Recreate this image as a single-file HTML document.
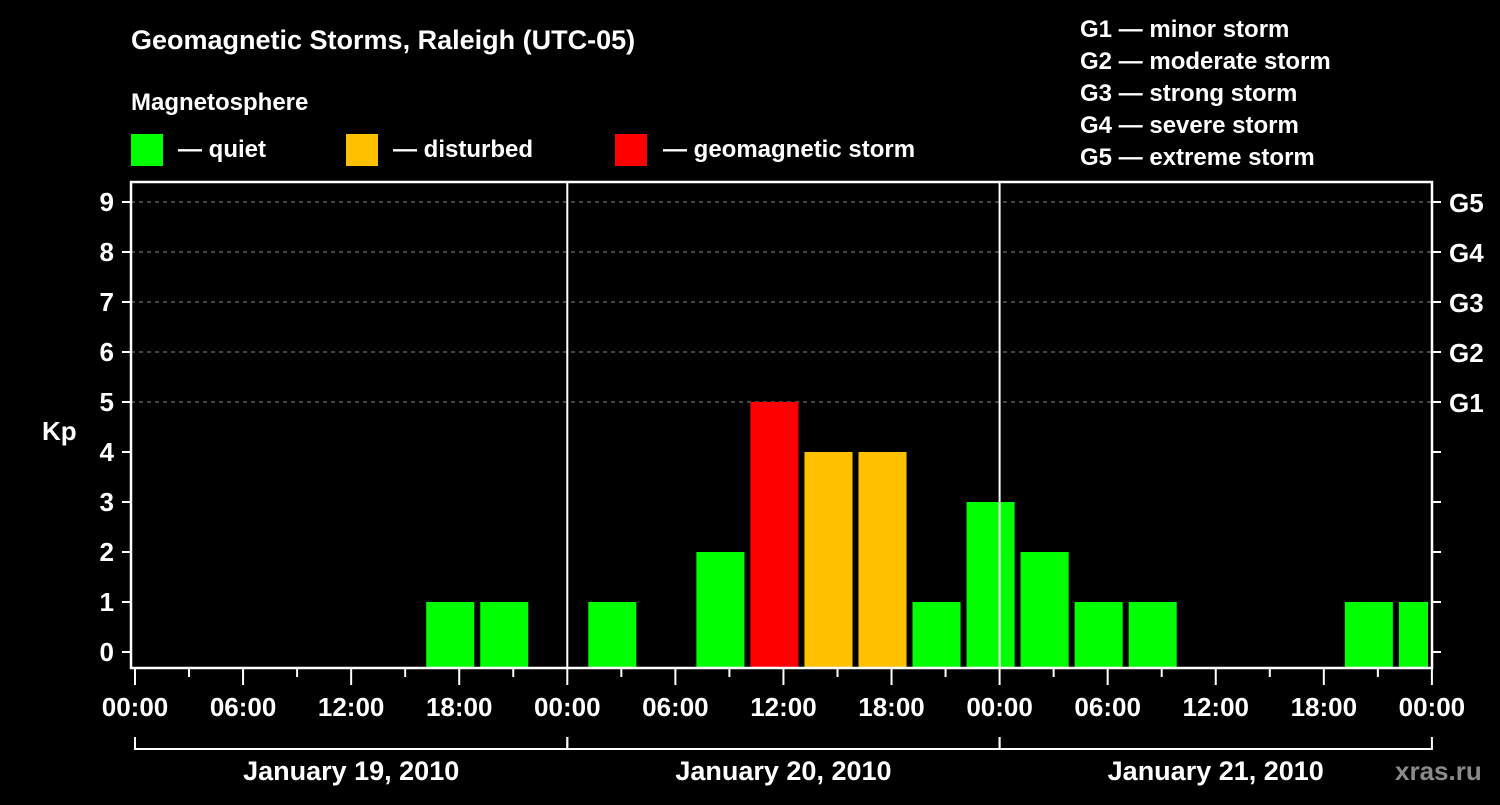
<!DOCTYPE html>
<html><head><meta charset="utf-8"><style>
body{margin:0;background:#000;width:1500px;height:800px;overflow:hidden}
svg text{font-family:"Liberation Sans",sans-serif;font-weight:bold;fill:#fff}
</style></head><body>
<svg id="c" width="1500" height="800" xmlns="http://www.w3.org/2000/svg">
<rect width="1500" height="800" fill="#000"/>
<text x="131" y="49" font-size="27">Geomagnetic Storms, Raleigh (UTC-05)</text>
<text x="131" y="110" font-size="24">Magnetosphere</text>
<rect x="131" y="134" width="32" height="32" fill="#00ff00"/>
<text x="178" y="157" font-size="24">— quiet</text>
<rect x="346" y="134" width="32" height="32" fill="#ffc000"/>
<text x="393" y="157" font-size="24">— disturbed</text>
<rect x="615" y="134" width="32" height="32" fill="#ff0000"/>
<text x="663" y="157" font-size="24">— geomagnetic storm</text>
<g font-size="24">
<text x="1080" y="37">G1 — minor storm</text>
<text x="1080" y="69">G2 — moderate storm</text>
<text x="1080" y="101">G3 — strong storm</text>
<text x="1080" y="133">G4 — severe storm</text>
<text x="1080" y="165">G5 — extreme storm</text>
</g>
<text x="42" y="440" font-size="26">Kp</text>
<text x="1395" y="780" font-size="26" style="fill:#8a8a8a">xras.ru</text>
<g id="plot"></g>
</svg>
<script>
const kpValues=[0,0,0,0,0,0,1,1,0, 1,0,2,5,4,4,1,3, 2,1,1,0,0,0,1,1];
const slotStartHours=[-2,1,4,7,10,13,16,19,22, 25,28,31,34,37,40,43,46, 49,52,55,58,61,64,67,70];
const yTicks=[0,1,2,3,4,5,6,7,8,9];
const gLabels=["","","","","","G1","G2","G3","G4","G5"];
const xTickLabels=["00:00","06:00","12:00","18:00"];
const dayLabels=["January 19, 2010","January 20, 2010","January 21, 2010"];

const NS="http://www.w3.org/2000/svg";
const g=document.getElementById('plot');
const L=131,R=1432,T=182,B=668,X0=135,DAY=432.3;
const xs=h=>X0+h*DAY/24;
const ys=v=>652-50*v;
function mk(tag,a,txt){const e=document.createElementNS(NS,tag);for(const k in a)e.setAttribute(k,a[k]);if(txt!=null)e.textContent=txt;g.appendChild(e);return e;}
// grid
yTicks.forEach((v,i)=>{
  if(v>=5){const gl=mk('line',{x1:L,x2:R,y1:ys(v),y2:ys(v),stroke:'#888','stroke-width':1,'stroke-dasharray':'4,4'});
  
  }
  const t1=mk('line',{x1:L-9,x2:L,y1:ys(v),y2:ys(v),stroke:'#fff','stroke-width':2});
  
  
  const t2=mk('line',{x1:R,x2:R+9,y1:ys(v),y2:ys(v),stroke:'#fff','stroke-width':2});
  
  
  const lb=mk('text',{x:114,y:ys(v)+9,'font-size':26,'text-anchor':'end'},String(v));
  
  
  if(gLabels[i]){const gl2=mk('text',{x:1449,y:ys(v)+10,'font-size':26},gLabels[i]);
  
  }
});
// bars
kpValues.forEach((v,i)=>{
  if(v<=0)return;
  let x1=xs(slotStartHours[i])+3,x2=xs(slotStartHours[i]+3)-3;
  x1=Math.max(x1,L+2);x2=Math.min(x2,R-4);
  const col=v>=5?'#ff0000':(v>=4?'#ffc000':'#00ff00');
  const b=mk('rect',{x:x1,y:ys(v),width:x2-x1,height:B-ys(v),fill:col});
  
  
});
// day separators
[1,2].forEach(d=>{const s=mk('line',{x1:xs(24*d),x2:xs(24*d),y1:T,y2:B,stroke:'#fff','stroke-width':2});
  
  });
// frame
const fr=mk('path',{d:`M${L},${B} V${T} H${R} V${B} Z`,fill:'none',stroke:'#fff','stroke-width':2.5});


// x ticks
for(let h=0;h<=72;h+=3){
  const major=h%6===0;
  const t=mk('line',{x1:xs(h),x2:xs(h),y1:B,y2:major?685:677,stroke:'#fff','stroke-width':2});
  
  
  if(major){const lb=mk('text',{x:xs(h),y:716,'font-size':26,'text-anchor':'middle'},xTickLabels[(h/6)%4]);
    
    }
}
// day brackets
dayLabels.forEach((d,i)=>{
  const a=xs(24*i),b=xs(24*(i+1));
  const br=mk('path',{d:`M${a},737 V749 H${b} V737`,fill:'none',stroke:'#fff','stroke-width':2});
  
  
  const t=mk('text',{x:(a+b)/2,y:780,'font-size':27,'text-anchor':'middle'},d);
  
  
});
</script>
</body></html>
